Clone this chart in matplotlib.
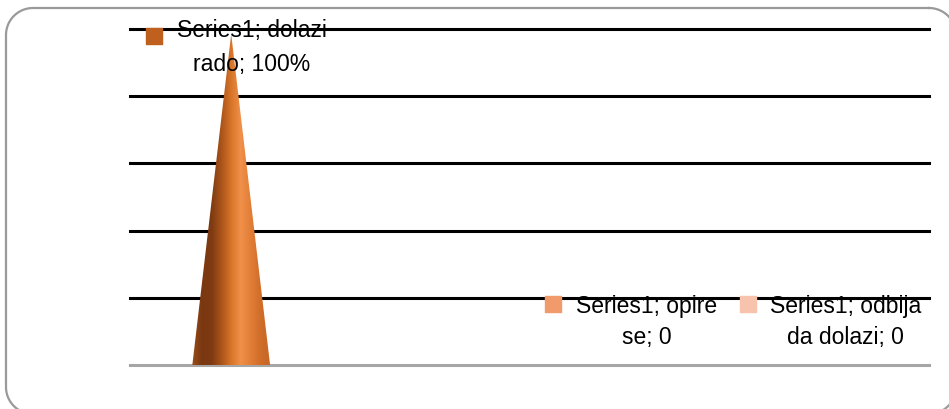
import numpy as np
from matplotlib import pyplot as plt
from matplotlib.patches import Polygon
from matplotlib.lines import Line2D
from matplotlib.colors import LinearSegmentedColormap

#%% data
categories = ["dolazi rado", "opire se", "odbija da dolazi"]
values = [1.0, 0.0, 0.0]
value_labels = ["100%", "0", "0"]
series_name = "Series1"
point_colors = ["#c0601e", "#f19b6d", "#f7c3ad"]
grid_ticks = [0.2, 0.4, 0.6, 0.8, 1.0]

plt.rcParams['font.family'] = ['Liberation Sans', 'DejaVu Sans']

W, H = 949, 409
fig = plt.figure(figsize=(W / 100, H / 100), dpi=100)


def rounded_rect(x0, y0, x1, y1, r, n=30):
    # polyline of a rounded rectangle in pixel coords (y down)
    pts = []
    corners = [(x1 - r, y0 + r, -90, 0), (x1 - r, y1 - r, 0, 90),
               (x0 + r, y1 - r, 90, 180), (x0 + r, y0 + r, 180, 270)]
    for cx, cy, a0, a1 in corners:
        t = np.radians(np.linspace(a0, a1, n))
        pts += list(zip(cx + r * np.cos(t), cy + r * np.sin(t)))
    pts.append(pts[0])
    pts = np.array(pts)
    return pts[:, 0] / W, 1 - pts[:, 1] / H


# frame round the whole chart, running off the right and bottom edges
fx, fy = rounded_rect(6, 8, 956, 414, 27)
fig.add_artist(Line2D(fx, fy, transform=fig.transFigure, color="#9a9a9a",
                      lw=1.6, zorder=-1))

# plot area in pixels: x 130..929, y 29..365
ax = fig.add_axes([130 / W, (H - 365) / H, 799 / W, 336 / H])
ax.set_facecolor("none")
for s in ax.spines.values():
    s.set_visible(False)
ax.set_xticks([])
ax.set_yticks([])

for g in grid_ticks:
    ax.axhline(g, color="black", lw=2.2, zorder=1, clip_on=False)
ax.axhline(0, color="#a6a6a6", lw=2.2, zorder=1, clip_on=False)

#%% cones with a shaded gradient
cone_cmap = LinearSegmentedColormap.from_list(
    "cone", ["#9a4c1a", "#7a3811", "#7e3a12", "#a9531a", "#d77428", "#f0904a",
             "#e27e37", "#d06e2a", "#c66626"])
half_w = 0.146
for i, v in enumerate(values):
    if v <= 0:
        continue
    grad = np.linspace(0, 1, 256).reshape(1, -1)
    im = ax.imshow(grad, cmap=cone_cmap, aspect="auto",
                   extent=(i - half_w, i + half_w, 0, v * 0.985), zorder=2)
    tri = Polygon([(i - half_w, 0), (i + half_w, 0), (i, v * 0.985)], closed=True,
                  facecolor="none", edgecolor="none", transform=ax.transData)
    ax.add_patch(tri)
    im.set_clip_path(tri)
ax.set_xlim(-0.38, 2.62)
ax.set_ylim(0, 1.0)

#%% data labels (legend key + text), placed like the original
label_pos = [(0.152, 0.945), (0.647, 0.128), (0.896, 0.128)]
key_pos = [(0.030, 0.979), (0.530, 0.183), (0.773, 0.183)]
label_lines = [
    (series_name + "; dolazi", "rado; " + value_labels[0]),
    (series_name + "; opire", "se; " + value_labels[1]),
    (series_name + "; odbija", "da dolazi; " + value_labels[2]),
]
spacing = [1.6, 1.4, 1.4]
for (lx, ly), (kx, ky), lines, c, ls in zip(label_pos, key_pos, label_lines,
                                            point_colors, spacing):
    ax.text(lx, ly, lines[0] + "\n" + lines[1], transform=ax.transAxes,
            ha="center", va="center", fontsize=16.5, linespacing=ls,
            multialignment="center", zorder=5, clip_on=False)
    ax.scatter([kx], [ky], marker="s", s=120, color=c, transform=ax.transAxes,
               zorder=5, clip_on=False)

fig.savefig("out.png", dpi=100)
